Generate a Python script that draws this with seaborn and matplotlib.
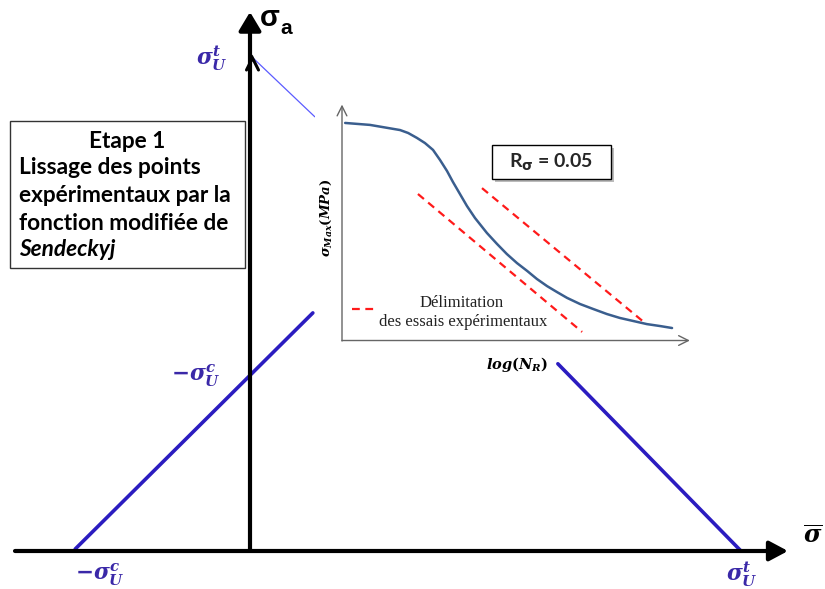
import matplotlib
matplotlib.use("Agg")
import matplotlib.pyplot as plt
import seaborn as sns
import numpy as np
from matplotlib.patches import Rectangle
from matplotlib.transforms import Affine2D

# ---------------- data ----------------
# main diagram (units: sigma / sigma_U^t)
goodman_top_x = [0.004, 0.132]
goodman_top_y = [1.000, 0.879]
goodman_bot_x = [0.627, 1.000]
goodman_bot_y = [0.379, 0.000]
comp_x = [-0.356, 0.128]
comp_y = [0.004, 0.482]

# inset S-N curve (log N_R, sigma_max arbitrary units)
logN = [0.09, 0.80, 1.66, 1.89, 2.14, 2.37, 2.60, 2.80, 3.00, 3.17, 3.37,
        3.57, 3.80, 4.14, 4.43, 4.71, 5.00, 5.29, 5.57, 5.86, 6.14, 6.43,
        6.80, 7.17, 7.57, 7.94, 8.31, 8.71, 9.09, 9.43]
smax = [89.0, 88.2, 86.1, 84.9, 82.9, 80.8, 78.0, 73.9, 69.4, 64.9, 60.0,
        55.1, 50.2, 44.1, 39.6, 35.5, 31.8, 28.6, 25.3, 22.4, 20.0, 17.6,
        15.1, 13.1, 11.0, 9.4, 8.2, 6.9, 6.1, 5.3]
lim_left_x = [2.17, 6.86]
lim_left_y = [60.0, 3.7]
lim_right_x = [4.00, 8.66]
lim_right_y = [62.4, 7.3]
legend_dash_x = [0.29, 0.94]
legend_dash_y = [13.1, 13.1]

box_lines = ["Lissage des points", "expérimentaux par la", "fonction modifiée de"]

# ---------------- style ----------------
sns.set_theme(style="white")
plt.rcParams['font.family'] = ['Lato', 'DejaVu Sans']
plt.rcParams['mathtext.fontset'] = 'custom'
plt.rcParams['mathtext.it'] = 'DejaVu Serif:italic:bold'
plt.rcParams['mathtext.rm'] = 'DejaVu Serif:bold'
plt.rcParams['mathtext.bf'] = 'DejaVu Serif:bold'
plt.rcParams['mathtext.sf'] = 'DejaVu Sans:bold'

W, H = 825, 589
fig = plt.figure(figsize=(W / 100, H / 100), dpi=100)
fig.patch.set_facecolor('white')
pix = Affine2D().scale(1 / W, -1 / H).translate(0, 1) + fig.transFigure

BLUE_THICK = '#2b1cc0'
BLUE_THIN = '#5b5bff'
BLUE_LABEL = '#3a28a8'

ax = fig.add_axes([0, 0, 1, 1])
ax.set_xlim(-250 / 491, 575 / 491)
ax.set_ylim(-38 / 494, 551 / 494)
ax.axis('off')

# blue lines
sns.lineplot(x=goodman_top_x, y=goodman_top_y, ax=ax, color=BLUE_THIN, lw=0.9,
             estimator=None, sort=False, zorder=2)
sns.lineplot(x=goodman_bot_x, y=goodman_bot_y, ax=ax, color=BLUE_THICK, lw=2.6,
             estimator=None, sort=False, zorder=2)
sns.lineplot(x=comp_x, y=comp_y, ax=ax, color=BLUE_THICK, lw=2.6,
             estimator=None, sort=False, zorder=2)

# main axes arrows
ax.annotate('', xy=(1.0957, 0), xytext=(-0.4786, 0),
            arrowprops=dict(arrowstyle='-|>,head_length=0.75,head_width=0.4',
                            mutation_scale=15, lw=3, color='black',
                            shrinkA=0, shrinkB=0), zorder=3)
ax.annotate('', xy=(0, 1.0911), xytext=(0, 0),
            arrowprops=dict(arrowstyle='-|>,head_length=0.75,head_width=0.45',
                            mutation_scale=15, lw=3, color='black',
                            shrinkA=0, shrinkB=0), zorder=3)
# open chevron on the vertical axis (second arrow)
ax.plot([246.5, 252.5, 258.5], [70, 58, 70], transform=pix, color='black',
        lw=2.2, solid_joinstyle='miter', zorder=3)

# white cover under inset
ax.add_patch(Rectangle((315, 88), 385, 274, transform=pix, facecolor='white',
                       edgecolor='none', zorder=4))

# blue labels
lab_kw = dict(color=BLUE_LABEL, fontsize=15.5, ha='center', va='center', zorder=5)
ax.text(212, 58, r'$\sigma_U^t$', transform=pix, **lab_kw)
ax.text(196, 376, r'$-\sigma_U^c$', transform=pix, **lab_kw)
ax.text(100, 575, r'$-\sigma_U^c$', transform=pix, **lab_kw)
ax.text(742, 574, r'$\sigma_U^t$', transform=pix, **lab_kw)

# axis names
ax.text(813, 536, r'$\overline{\sigma}$', transform=pix, fontsize=17,
        color='black', ha='center', va='center')
ax.text(270, 18, 'σ', transform=pix, fontsize=21, family='Liberation Sans',
        fontweight='bold', color='black', ha='center', va='center')
ax.text(286, 29, 'a', transform=pix, fontsize=15, family='Liberation Sans',
        fontweight='bold', color='black', ha='center', va='center')

# text box
ax.add_patch(Rectangle((10, 121), 235, 147, transform=pix, facecolor='white',
                       edgecolor='#333333', lw=1.0, zorder=5))
tb_kw = dict(fontsize=16.3, fontweight='bold', color='black', va='center', zorder=6)
ax.text(127.5, 141, 'Etape 1', transform=pix, ha='center', **tb_kw)
for i, line in enumerate(box_lines):
    ax.text(19, 168 + i * 27.5, line, transform=pix, ha='left', **tb_kw)
ax.text(19, 250, 'Sendeckyj', transform=pix, ha='left', fontstyle='italic', **tb_kw)

# ---------------- inset ----------------
axi = fig.add_axes([342 / W, 1 - 341 / H, 350 / W, 245 / H])
axi.set_xlim(0, 10)
axi.set_ylim(0, 100)
axi.axis('off')
axi.patch.set_alpha(0)

sns.lineplot(x=logN, y=smax, ax=axi, color='#3a5e8e', lw=1.8,
             estimator=None, sort=False)
for xs, ys in [(lim_left_x, lim_left_y), (lim_right_x, lim_right_y),
               (legend_dash_x, legend_dash_y)]:
    sns.lineplot(x=xs, y=ys, ax=axi, color='#ff1a1a', lw=1.6,
                 estimator=None, sort=False, dashes=False,
                 linestyle=(0, (3.5, 2.5)))

axi.annotate('', xy=(0.0, 0.965), xytext=(0.0, 0.0), xycoords='axes fraction',
             arrowprops=dict(arrowstyle='->,head_length=0.7,head_width=0.35',
                             mutation_scale=10, lw=1.0, color='#666666',
                             shrinkA=0, shrinkB=0))
axi.annotate('', xy=(0.994, 0.002), xytext=(0.0, 0.002), xycoords='axes fraction',
             arrowprops=dict(arrowstyle='->,head_length=0.7,head_width=0.35',
                             mutation_scale=10, lw=1.0, color='#666666',
                             shrinkA=0, shrinkB=0))

axi.text(462, 303, 'Délimitation', transform=pix, family='Liberation Serif',
         fontsize=12, ha='center', va='center', color='#222222')
axi.text(463, 322, 'des essais expérimentaux', transform=pix,
         family='Liberation Serif', fontsize=12, ha='center', va='center',
         color='#222222')
axi.text(517, 365, r'$log(N_R)$', transform=pix, fontsize=10.5,
         ha='center', va='center', color='black')
axi.text(326, 218, r'$\sigma_{Max}(MPa)$', transform=pix, fontsize=9.5,
         rotation=90, ha='center', va='center', color='black')

# R box with shadow
axi.add_patch(Rectangle((495, 148), 119, 34, transform=pix, facecolor='#bbbbbb',
                        edgecolor='none', clip_on=False, zorder=5))
axi.add_patch(Rectangle((492, 145), 119, 34, transform=pix, facecolor='white',
                        edgecolor='black', lw=1.0, clip_on=False, zorder=6))
axi.text(551, 162, r'R$_{\mathsf{σ}}$ = 0.05', transform=pix, fontsize=14,
         fontweight='bold', ha='center', va='center', zorder=7)

fig.savefig('out.png', dpi=100)
